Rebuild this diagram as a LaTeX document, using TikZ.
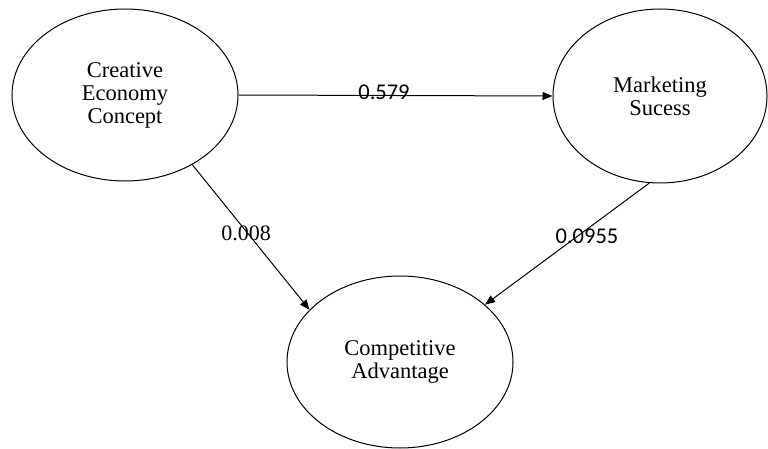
\documentclass[tikz,border=0pt]{standalone}
\usepackage{fontspec}
\setmainfont{Liberation Serif}
\newfontfamily\labelfont{Carlito}
\usepackage{tikz}
\usetikzlibrary{shapes,arrows,calc,arrows.meta}

\begin{document}
\begin{tikzpicture}[x=1pt, y=-1pt, line width=1pt,
    construct/.style={draw, ellipse, align=center, inner sep=0pt,
      font=\fontsize{22.5}{23}\selectfont},
    path/.style={-{Triangle[length=10pt,width=8pt]}},
    weight/.style={inner sep=0pt, font=\fontsize{22}{24}\selectfont},
    sansweight/.style={inner sep=0pt, font=\labelfont\fontsize{22.5}{24}\selectfont}]
    \useasboundingbox (0,0) rectangle (768,449);
    % Nodes
    \node [construct, minimum width=226pt, minimum height=172pt] (cec) at (125,95) {Creative\\Economy\\Concept};
    \node [construct, minimum width=214pt, minimum height=174pt] (ms) at (660,96) {Marketing\\Sucess};
    \node [construct, minimum width=226pt, minimum height=172pt] (ca) at (400,362) {Competitive\\Advantage};

    % Arrows
    \draw [path] (cec.east) -- (ms.west);
    \draw [path] (cec.-46.7) -- (ca.150.9);
    \draw [path] (ms.-97.3) -- (ca.34.9);

    % Labels
    \node [sansweight] (w1) at (384,92) {0.579};
    \node [weight] (w2) at (246,233) {0.008};
    \node [sansweight] (w3) at (587,236) {0.0955};
  \end{tikzpicture}
\end{document}
